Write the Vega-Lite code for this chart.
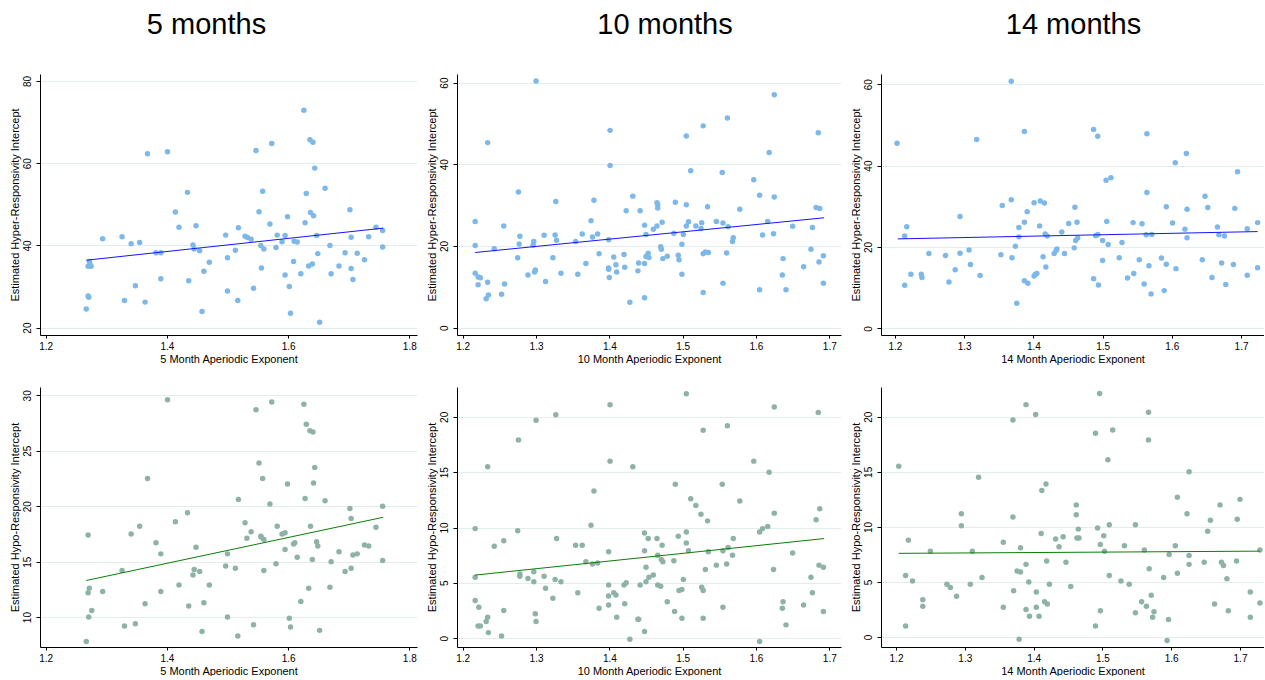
{
"$schema": "https://vega.github.io/schema/vega-lite/v6.json",
"background": "white",
"padding": {"left": 9, "top": 11, "right": 0, "bottom": 0},
"columns": 3,
"spacing": {"column": 40, "row": 52},
"bounds": "flush",
"datasets": {
"h5": [{"x":1.267,"y":24.5},{"x":1.270,"y":27.7},{"x":1.271,"y":27.4},{"x":1.270,"y":34.9},{"x":1.272,"y":36.1},{"x":1.275,"y":34.9},{"x":1.273,"y":35.4},{"x":1.294,"y":41.6},{"x":1.326,"y":42.1},{"x":1.330,"y":26.6},{"x":1.341,"y":40.4},{"x":1.348,"y":30.2},{"x":1.355,"y":40.7},{"x":1.364,"y":26.2},{"x":1.368,"y":62.3},{"x":1.382,"y":38.2},{"x":1.390,"y":38.2},{"x":1.390,"y":31.9},{"x":1.401,"y":62.8},{"x":1.414,"y":48.1},{"x":1.420,"y":44.4},{"x":1.434,"y":52.9},{"x":1.436,"y":31.4},{"x":1.443,"y":40.1},{"x":1.445,"y":39.1},{"x":1.448,"y":44.8},{"x":1.454,"y":38.7},{"x":1.458,"y":23.9},{"x":1.461,"y":33.7},{"x":1.470,"y":35.9},{"x":1.497,"y":42.5},{"x":1.500,"y":37.0},{"x":1.500,"y":28.9},{"x":1.513,"y":38.8},{"x":1.517,"y":26.6},{"x":1.518,"y":44.3},{"x":1.529,"y":42.2},{"x":1.533,"y":41.9},{"x":1.539,"y":41.5},{"x":1.543,"y":29.6},{"x":1.547,"y":63.1},{"x":1.552,"y":48.2},{"x":1.555,"y":40.0},{"x":1.556,"y":34.5},{"x":1.558,"y":53.2},{"x":1.560,"y":39.1},{"x":1.570,"y":45.2},{"x":1.573,"y":64.8},{"x":1.580,"y":39.5},{"x":1.582,"y":42.5},{"x":1.590,"y":40.9},{"x":1.595,"y":42.4},{"x":1.595,"y":32.8},{"x":1.599,"y":47.0},{"x":1.602,"y":30.0},{"x":1.604,"y":23.5},{"x":1.609,"y":36.1},{"x":1.610,"y":41.0},{"x":1.615,"y":40.8},{"x":1.621,"y":33.1},{"x":1.626,"y":72.9},{"x":1.628,"y":45.5},{"x":1.630,"y":52.6},{"x":1.634,"y":35.0},{"x":1.636,"y":65.7},{"x":1.637,"y":48.0},{"x":1.640,"y":35.5},{"x":1.641,"y":65.1},{"x":1.642,"y":47.2},{"x":1.644,"y":58.8},{"x":1.647,"y":42.4},{"x":1.649,"y":38.0},{"x":1.652,"y":21.3},{"x":1.661,"y":53.9},{"x":1.669,"y":40.0},{"x":1.671,"y":33.1},{"x":1.684,"y":35.0},{"x":1.694,"y":38.2},{"x":1.702,"y":48.7},{"x":1.704,"y":42.0},{"x":1.704,"y":34.4},{"x":1.707,"y":31.7},{"x":1.714,"y":38.1},{"x":1.726,"y":36.5},{"x":1.733,"y":42.1},{"x":1.745,"y":44.4},{"x":1.756,"y":43.6},{"x":1.756,"y":39.6}],
"h5fit": [{"x":1.267,"y":36.4},{"x":1.757,"y":44.2}],
"o5": [{"x":1.267,"y":7.8},{"x":1.270,"y":17.4},{"x":1.270,"y":12.2},{"x":1.272,"y":12.6},{"x":1.271,"y":10.0},{"x":1.276,"y":10.6},{"x":1.294,"y":12.3},{"x":1.326,"y":14.2},{"x":1.330,"y":9.2},{"x":1.341,"y":17.5},{"x":1.348,"y":9.4},{"x":1.355,"y":18.2},{"x":1.364,"y":11.2},{"x":1.368,"y":22.5},{"x":1.382,"y":16.7},{"x":1.390,"y":15.7},{"x":1.390,"y":12.3},{"x":1.401,"y":29.6},{"x":1.414,"y":18.6},{"x":1.420,"y":12.9},{"x":1.434,"y":19.4},{"x":1.436,"y":11.0},{"x":1.443,"y":13.8},{"x":1.445,"y":14.3},{"x":1.448,"y":16.3},{"x":1.454,"y":14.1},{"x":1.458,"y":8.7},{"x":1.461,"y":11.3},{"x":1.470,"y":12.9},{"x":1.497,"y":14.6},{"x":1.500,"y":15.7},{"x":1.500,"y":10.0},{"x":1.513,"y":14.4},{"x":1.517,"y":8.3},{"x":1.518,"y":20.6},{"x":1.529,"y":18.5},{"x":1.532,"y":17.1},{"x":1.539,"y":17.7},{"x":1.543,"y":9.3},{"x":1.547,"y":28.7},{"x":1.552,"y":23.9},{"x":1.555,"y":17.3},{"x":1.556,"y":17.2},{"x":1.558,"y":22.5},{"x":1.560,"y":17.0},{"x":1.560,"y":14.2},{"x":1.570,"y":20.2},{"x":1.573,"y":29.4},{"x":1.580,"y":14.8},{"x":1.582,"y":18.2},{"x":1.590,"y":17.5},{"x":1.595,"y":17.6},{"x":1.595,"y":16.1},{"x":1.599,"y":22.0},{"x":1.602,"y":9.9},{"x":1.604,"y":9.1},{"x":1.609,"y":16.6},{"x":1.611,"y":16.7},{"x":1.615,"y":15.4},{"x":1.621,"y":11.4},{"x":1.626,"y":29.2},{"x":1.628,"y":20.7},{"x":1.630,"y":27.4},{"x":1.634,"y":12.6},{"x":1.636,"y":26.8},{"x":1.637,"y":18.2},{"x":1.640,"y":15.2},{"x":1.641,"y":26.7},{"x":1.642,"y":22.1},{"x":1.644,"y":23.5},{"x":1.647,"y":16.8},{"x":1.649,"y":16.4},{"x":1.652,"y":8.8},{"x":1.661,"y":20.5},{"x":1.669,"y":12.7},{"x":1.671,"y":15.0},{"x":1.684,"y":15.9},{"x":1.694,"y":14.1},{"x":1.702,"y":19.8},{"x":1.704,"y":14.4},{"x":1.704,"y":18.9},{"x":1.707,"y":15.6},{"x":1.714,"y":15.7},{"x":1.726,"y":16.5},{"x":1.733,"y":16.4},{"x":1.745,"y":18.1},{"x":1.756,"y":15.1},{"x":1.756,"y":20.0}],
"o5fit": [{"x":1.267,"y":13.3},{"x":1.757,"y":19.0}],
"h10": [{"x":1.217,"y":26.0},{"x":1.217,"y":20.1},{"x":1.217,"y":13.3},{"x":1.221,"y":12.4},{"x":1.224,"y":12.2},{"x":1.221,"y":10.5},{"x":1.234,"y":45.3},{"x":1.234,"y":11.1},{"x":1.232,"y":7.1},{"x":1.235,"y":8.0},{"x":1.243,"y":19.3},{"x":1.253,"y":8.2},{"x":1.256,"y":24.9},{"x":1.257,"y":10.7},{"x":1.275,"y":17.1},{"x":1.276,"y":33.2},{"x":1.278,"y":22.4},{"x":1.277,"y":20.5},{"x":1.289,"y":12.9},{"x":1.297,"y":21.1},{"x":1.296,"y":20.2},{"x":1.299,"y":14.1},{"x":1.298,"y":13.6},{"x":1.300,"y":60.4},{"x":1.311,"y":22.6},{"x":1.313,"y":11.3},{"x":1.323,"y":17.1},{"x":1.326,"y":22.7},{"x":1.327,"y":30.9},{"x":1.328,"y":21.4},{"x":1.334,"y":13.3},{"x":1.354,"y":21.1},{"x":1.357,"y":13.1},{"x":1.363,"y":22.9},{"x":1.368,"y":15.7},{"x":1.375,"y":26.2},{"x":1.377,"y":22.2},{"x":1.379,"y":31.2},{"x":1.384,"y":22.9},{"x":1.386,"y":18.1},{"x":1.399,"y":21.5},{"x":1.399,"y":14.6},{"x":1.399,"y":14.3},{"x":1.400,"y":12.3},{"x":1.401,"y":48.3},{"x":1.401,"y":39.7},{"x":1.406,"y":17.3},{"x":1.409,"y":15.4},{"x":1.410,"y":13.6},{"x":1.420,"y":17.9},{"x":1.421,"y":14.8},{"x":1.423,"y":28.6},{"x":1.428,"y":6.2},{"x":1.432,"y":32.2},{"x":1.439,"y":13.9},{"x":1.440,"y":15.8},{"x":1.442,"y":28.6},{"x":1.448,"y":7.3},{"x":1.448,"y":25.1},{"x":1.448,"y":15.7},{"x":1.450,"y":17.4},{"x":1.450,"y":22.8},{"x":1.453,"y":18.2},{"x":1.454,"y":17.2},{"x":1.460,"y":24.1},{"x":1.465,"y":30.6},{"x":1.466,"y":30.1},{"x":1.466,"y":29.3},{"x":1.465,"y":24.9},{"x":1.470,"y":19.8},{"x":1.471,"y":19.2},{"x":1.472,"y":25.8},{"x":1.473,"y":16.9},{"x":1.479,"y":17.5},{"x":1.488,"y":23.1},{"x":1.490,"y":30.7},{"x":1.494,"y":17.7},{"x":1.495,"y":16.6},{"x":1.499,"y":13.1},{"x":1.499,"y":20.4},{"x":1.501,"y":22.8},{"x":1.505,"y":46.9},{"x":1.505,"y":24.9},{"x":1.505,"y":30.1},{"x":1.508,"y":25.9},{"x":1.511,"y":38.4},{"x":1.518,"y":24.9},{"x":1.525,"y":24.3},{"x":1.526,"y":25.7},{"x":1.528,"y":49.4},{"x":1.528,"y":18.1},{"x":1.528,"y":8.6},{"x":1.531,"y":18.5},{"x":1.535,"y":18.4},{"x":1.534,"y":29.6},{"x":1.546,"y":26.0},{"x":1.554,"y":38.0},{"x":1.555,"y":25.6},{"x":1.555,"y":10.9},{"x":1.560,"y":18.3},{"x":1.561,"y":51.3},{"x":1.562,"y":24.7},{"x":1.568,"y":21.1},{"x":1.569,"y":22.0},{"x":1.578,"y":29.0},{"x":1.597,"y":36.2},{"x":1.605,"y":32.4},{"x":1.605,"y":9.3},{"x":1.609,"y":22.7},{"x":1.616,"y":26.0},{"x":1.618,"y":42.9},{"x":1.624,"y":23.0},{"x":1.625,"y":32.0},{"x":1.625,"y":57.0},{"x":1.637,"y":16.9},{"x":1.636,"y":12.9},{"x":1.641,"y":9.3},{"x":1.650,"y":24.8},{"x":1.665,"y":14.9},{"x":1.675,"y":19.2},{"x":1.677,"y":24.5},{"x":1.682,"y":29.4},{"x":1.685,"y":47.7},{"x":1.686,"y":16.1},{"x":1.687,"y":29.2},{"x":1.692,"y":17.6},{"x":1.692,"y":10.9}],
"h10fit": [{"x":1.217,"y":18.4},{"x":1.693,"y":26.9}],
"o10": [{"x":1.217,"y":9.9},{"x":1.217,"y":5.5},{"x":1.217,"y":3.4},{"x":1.222,"y":2.8},{"x":1.221,"y":1.1},{"x":1.224,"y":1.1},{"x":1.234,"y":15.5},{"x":1.234,"y":1.9},{"x":1.232,"y":1.5},{"x":1.235,"y":0.5},{"x":1.243,"y":8.3},{"x":1.253,"y":0.2},{"x":1.256,"y":8.8},{"x":1.256,"y":2.5},{"x":1.275,"y":9.7},{"x":1.276,"y":17.9},{"x":1.278,"y":5.8},{"x":1.278,"y":5.6},{"x":1.289,"y":5.4},{"x":1.297,"y":6.0},{"x":1.297,"y":5.1},{"x":1.299,"y":2.2},{"x":1.300,"y":1.5},{"x":1.300,"y":19.7},{"x":1.311,"y":5.6},{"x":1.313,"y":4.5},{"x":1.323,"y":3.6},{"x":1.326,"y":5.3},{"x":1.327,"y":20.2},{"x":1.328,"y":9.0},{"x":1.334,"y":5.1},{"x":1.354,"y":8.4},{"x":1.357,"y":4.1},{"x":1.363,"y":8.4},{"x":1.368,"y":6.9},{"x":1.375,"y":10.2},{"x":1.377,"y":6.7},{"x":1.379,"y":13.3},{"x":1.384,"y":6.8},{"x":1.386,"y":2.7},{"x":1.399,"y":7.8},{"x":1.399,"y":4.8},{"x":1.399,"y":3.8},{"x":1.399,"y":3.0},{"x":1.401,"y":21.1},{"x":1.401,"y":16.0},{"x":1.406,"y":4.1},{"x":1.409,"y":3.9},{"x":1.410,"y":1.9},{"x":1.420,"y":4.8},{"x":1.421,"y":3.1},{"x":1.423,"y":5.0},{"x":1.428,"y":-0.1},{"x":1.432,"y":15.5},{"x":1.439,"y":1.7},{"x":1.440,"y":1.7},{"x":1.442,"y":4.8},{"x":1.448,"y":0.6},{"x":1.448,"y":9.5},{"x":1.448,"y":7.9},{"x":1.450,"y":5.1},{"x":1.450,"y":6.4},{"x":1.453,"y":9.0},{"x":1.454,"y":5.5},{"x":1.460,"y":5.7},{"x":1.465,"y":9.0},{"x":1.466,"y":7.5},{"x":1.466,"y":4.8},{"x":1.470,"y":4.7},{"x":1.471,"y":7.1},{"x":1.472,"y":8.4},{"x":1.473,"y":6.9},{"x":1.479,"y":3.3},{"x":1.488,"y":7.0},{"x":1.490,"y":13.9},{"x":1.489,"y":2.4},{"x":1.494,"y":9.2},{"x":1.495,"y":4.3},{"x":1.499,"y":4.4},{"x":1.499,"y":1.8},{"x":1.501,"y":5.3},{"x":1.505,"y":22.1},{"x":1.505,"y":9.6},{"x":1.505,"y":8.6},{"x":1.508,"y":7.9},{"x":1.511,"y":12.6},{"x":1.518,"y":12.0},{"x":1.525,"y":11.2},{"x":1.526,"y":4.6},{"x":1.528,"y":18.8},{"x":1.528,"y":4.3},{"x":1.528,"y":1.8},{"x":1.531,"y":6.2},{"x":1.535,"y":7.8},{"x":1.534,"y":10.6},{"x":1.546,"y":6.6},{"x":1.554,"y":13.9},{"x":1.555,"y":7.9},{"x":1.555,"y":2.8},{"x":1.560,"y":6.7},{"x":1.561,"y":19.2},{"x":1.562,"y":8.2},{"x":1.568,"y":7.5},{"x":1.569,"y":9.0},{"x":1.578,"y":12.4},{"x":1.597,"y":16.0},{"x":1.605,"y":9.6},{"x":1.605,"y":-0.3},{"x":1.609,"y":9.9},{"x":1.616,"y":10.1},{"x":1.618,"y":15.0},{"x":1.624,"y":6.2},{"x":1.625,"y":11.3},{"x":1.625,"y":20.9},{"x":1.637,"y":3.3},{"x":1.636,"y":2.7},{"x":1.641,"y":1.2},{"x":1.650,"y":7.7},{"x":1.665,"y":3.0},{"x":1.675,"y":5.5},{"x":1.677,"y":4.1},{"x":1.682,"y":10.7},{"x":1.685,"y":20.4},{"x":1.686,"y":6.6},{"x":1.687,"y":11.7},{"x":1.692,"y":6.4},{"x":1.692,"y":2.4}],
"o10fit": [{"x":1.217,"y":5.7},{"x":1.693,"y":9.0}],
"h14": [{"x":1.203,"y":45.5},{"x":1.214,"y":10.6},{"x":1.214,"y":22.7},{"x":1.217,"y":25.0},{"x":1.223,"y":13.3},{"x":1.238,"y":13.3},{"x":1.239,"y":12.5},{"x":1.249,"y":18.4},{"x":1.273,"y":17.9},{"x":1.278,"y":11.4},{"x":1.287,"y":14.4},{"x":1.294,"y":27.5},{"x":1.294,"y":18.5},{"x":1.307,"y":19.3},{"x":1.309,"y":15.7},{"x":1.318,"y":46.4},{"x":1.323,"y":13.0},{"x":1.353,"y":18.1},{"x":1.355,"y":30.2},{"x":1.368,"y":60.7},{"x":1.368,"y":31.6},{"x":1.369,"y":17.4},{"x":1.374,"y":20.2},{"x":1.376,"y":6.2},{"x":1.379,"y":24.8},{"x":1.379,"y":22.5},{"x":1.387,"y":48.4},{"x":1.387,"y":26.1},{"x":1.387,"y":11.7},{"x":1.391,"y":28.7},{"x":1.392,"y":11.1},{"x":1.401,"y":30.9},{"x":1.401,"y":12.9},{"x":1.403,"y":13.3},{"x":1.405,"y":13.5},{"x":1.409,"y":25.2},{"x":1.410,"y":31.3},{"x":1.414,"y":17.6},{"x":1.416,"y":30.8},{"x":1.417,"y":23.2},{"x":1.418,"y":15.1},{"x":1.420,"y":22.7},{"x":1.430,"y":18.4},{"x":1.433,"y":19.2},{"x":1.434,"y":19.5},{"x":1.441,"y":23.7},{"x":1.445,"y":18.4},{"x":1.451,"y":25.8},{"x":1.459,"y":19.8},{"x":1.460,"y":29.8},{"x":1.461,"y":21.6},{"x":1.463,"y":26.1},{"x":1.464,"y":22.2},{"x":1.487,"y":12.2},{"x":1.487,"y":48.9},{"x":1.490,"y":22.8},{"x":1.493,"y":47.2},{"x":1.493,"y":23.1},{"x":1.494,"y":10.7},{"x":1.500,"y":21.6},{"x":1.500,"y":16.7},{"x":1.505,"y":36.4},{"x":1.506,"y":26.3},{"x":1.508,"y":20.6},{"x":1.512,"y":37.0},{"x":1.524,"y":17.4},{"x":1.528,"y":21.1},{"x":1.536,"y":12.4},{"x":1.544,"y":26.0},{"x":1.545,"y":13.5},{"x":1.553,"y":16.9},{"x":1.557,"y":25.7},{"x":1.560,"y":10.9},{"x":1.563,"y":23.0},{"x":1.564,"y":33.4},{"x":1.564,"y":47.8},{"x":1.567,"y":15.4},{"x":1.570,"y":8.5},{"x":1.571,"y":23.1},{"x":1.585,"y":17.3},{"x":1.589,"y":9.3},{"x":1.592,"y":29.9},{"x":1.592,"y":15.8},{"x":1.601,"y":25.9},{"x":1.605,"y":40.7},{"x":1.606,"y":14.7},{"x":1.619,"y":24.4},{"x":1.621,"y":43.0},{"x":1.622,"y":22.3},{"x":1.622,"y":29.3},{"x":1.644,"y":16.9},{"x":1.648,"y":32.5},{"x":1.652,"y":29.7},{"x":1.658,"y":12.5},{"x":1.666,"y":24.9},{"x":1.668,"y":23.0},{"x":1.672,"y":16.1},{"x":1.676,"y":22.7},{"x":1.678,"y":10.8},{"x":1.689,"y":15.7},{"x":1.691,"y":29.5},{"x":1.695,"y":38.5},{"x":1.709,"y":24.5},{"x":1.709,"y":13.1},{"x":1.724,"y":26.0},{"x":1.724,"y":14.9}],
"h14fit": [{"x":1.204,"y":22.0},{"x":1.724,"y":23.8}],
"o14": [{"x":1.204,"y":15.5},{"x":1.214,"y":5.6},{"x":1.214,"y":1.0},{"x":1.218,"y":8.8},{"x":1.224,"y":5.1},{"x":1.239,"y":3.4},{"x":1.239,"y":2.8},{"x":1.250,"y":7.8},{"x":1.274,"y":4.8},{"x":1.279,"y":4.5},{"x":1.288,"y":3.7},{"x":1.295,"y":11.2},{"x":1.295,"y":10.1},{"x":1.308,"y":4.8},{"x":1.311,"y":7.8},{"x":1.320,"y":14.5},{"x":1.325,"y":5.4},{"x":1.356,"y":2.7},{"x":1.356,"y":8.6},{"x":1.370,"y":19.7},{"x":1.370,"y":10.9},{"x":1.371,"y":4.2},{"x":1.376,"y":6.0},{"x":1.379,"y":-0.2},{"x":1.381,"y":5.9},{"x":1.381,"y":8.1},{"x":1.389,"y":6.6},{"x":1.389,"y":21.1},{"x":1.389,"y":2.5},{"x":1.393,"y":5.0},{"x":1.394,"y":1.9},{"x":1.403,"y":20.2},{"x":1.404,"y":4.1},{"x":1.404,"y":2.7},{"x":1.408,"y":1.9},{"x":1.411,"y":9.4},{"x":1.412,"y":13.3},{"x":1.416,"y":3.2},{"x":1.418,"y":13.9},{"x":1.419,"y":6.9},{"x":1.420,"y":3.0},{"x":1.423,"y":4.8},{"x":1.432,"y":8.9},{"x":1.437,"y":8.2},{"x":1.443,"y":9.1},{"x":1.447,"y":6.8},{"x":1.454,"y":4.6},{"x":1.462,"y":12.0},{"x":1.462,"y":11.1},{"x":1.463,"y":9.0},{"x":1.465,"y":9.8},{"x":1.466,"y":9.0},{"x":1.490,"y":18.5},{"x":1.490,"y":1.0},{"x":1.493,"y":9.9},{"x":1.497,"y":8.4},{"x":1.497,"y":2.4},{"x":1.496,"y":22.1},{"x":1.502,"y":9.2},{"x":1.503,"y":7.8},{"x":1.508,"y":16.1},{"x":1.510,"y":10.2},{"x":1.510,"y":5.6},{"x":1.515,"y":18.8},{"x":1.527,"y":5.1},{"x":1.532,"y":8.3},{"x":1.539,"y":4.8},{"x":1.548,"y":2.2},{"x":1.548,"y":10.2},{"x":1.557,"y":3.2},{"x":1.561,"y":7.9},{"x":1.564,"y":2.8},{"x":1.567,"y":20.4},{"x":1.567,"y":17.9},{"x":1.568,"y":6.2},{"x":1.571,"y":3.8},{"x":1.573,"y":1.8},{"x":1.575,"y":2.3},{"x":1.589,"y":5.4},{"x":1.594,"y":-0.3},{"x":1.596,"y":1.6},{"x":1.597,"y":7.5},{"x":1.606,"y":8.3},{"x":1.609,"y":12.7},{"x":1.609,"y":5.8},{"x":1.623,"y":11.2},{"x":1.626,"y":15.0},{"x":1.626,"y":7.4},{"x":1.626,"y":6.6},{"x":1.648,"y":6.8},{"x":1.653,"y":9.6},{"x":1.657,"y":10.6},{"x":1.663,"y":3.0},{"x":1.671,"y":12.0},{"x":1.673,"y":6.8},{"x":1.676,"y":6.5},{"x":1.681,"y":5.3},{"x":1.683,"y":2.4},{"x":1.695,"y":6.9},{"x":1.696,"y":10.7},{"x":1.700,"y":12.5},{"x":1.715,"y":4.1},{"x":1.715,"y":1.8},{"x":1.729,"y":7.9},{"x":1.729,"y":3.1}],
"o14fit": [{"x":1.204,"y":7.6},{"x":1.729,"y":7.8}]
},
"concat": [
{"width": 377, "height": 261, "title": {"text": "5 months", "dx": -22},
 "encoding": {"x": {"field": "x", "type": "quantitative", "scale": {"domain": [1.1906, 1.8127], "nice": false, "zero": false}, "axis": {"values": [1.2, 1.4, 1.6, 1.8], "format": ".1f", "title": "5 Month Aperiodic Exponent"}},
  "y": {"field": "y", "type": "quantitative", "scale": {"domain": [18.2, 81.7], "nice": false, "zero": false}, "axis": {"values": [20, 40, 60, 80], "format": "d", "title": "Estimated Hyper-Responsivity Intercept"}}},
 "layer": [
  {"data": {"name": "h5"}, "mark": {"type": "point", "filled": true, "size": 30, "opacity": 1, "color": "#7db8e8", "strokeWidth": 0}},
  {"data": {"name": "h5fit"}, "mark": {"type": "line", "color": "#1414ff", "strokeWidth": 1}, "encoding": {}}
 ]},
{"width": 384, "height": 261, "title": {"text": "10 months", "dx": 16},
 "encoding": {"x": {"field": "x", "type": "quantitative", "scale": {"domain": [1.1922, 1.716], "nice": false, "zero": false}, "axis": {"values": [1.2, 1.3, 1.4, 1.5, 1.6, 1.7], "format": ".1f", "title": "10 Month Aperiodic Exponent"}},
  "y": {"field": "y", "type": "quantitative", "scale": {"domain": [-1.8, 62.1], "nice": false, "zero": false}, "axis": {"values": [0, 20, 40, 60], "format": "d", "title": "Estimated Hyper-Responsivity Intercept"}}},
 "layer": [
  {"data": {"name": "h10"}, "mark": {"type": "point", "filled": true, "size": 30, "opacity": 1, "color": "#7db8e8", "strokeWidth": 0}},
  {"data": {"name": "h10fit"}, "mark": {"type": "line", "color": "#1414ff", "strokeWidth": 1}, "encoding": {}}
 ]},
{"width": 383, "height": 261, "title": {"text": "14 months", "dx": 1},
 "encoding": {"x": {"field": "x", "type": "quantitative", "scale": {"domain": [1.1798, 1.7332], "nice": false, "zero": false}, "axis": {"values": [1.2, 1.3, 1.4, 1.5, 1.6, 1.7], "format": ".1f", "title": "14 Month Aperiodic Exponent"}},
  "y": {"field": "y", "type": "quantitative", "scale": {"domain": [-1.6, 62.5], "nice": false, "zero": false}, "axis": {"values": [0, 20, 40, 60], "format": "d", "title": "Estimated Hyper-Responsivity Intercept"}}},
 "layer": [
  {"data": {"name": "h14"}, "mark": {"type": "point", "filled": true, "size": 30, "opacity": 1, "color": "#7db8e8", "strokeWidth": 0}},
  {"data": {"name": "h14fit"}, "mark": {"type": "line", "color": "#1414ff", "strokeWidth": 1}, "encoding": {}}
 ]},
{"width": 377, "height": 260,
 "encoding": {"x": {"field": "x", "type": "quantitative", "scale": {"domain": [1.1906, 1.8127], "nice": false, "zero": false}, "axis": {"values": [1.2, 1.4, 1.6, 1.8], "format": ".1f", "title": "5 Month Aperiodic Exponent"}},
  "y": {"field": "y", "type": "quantitative", "scale": {"domain": [7.3, 30.75], "nice": false, "zero": false}, "axis": {"values": [10, 15, 20, 25, 30], "format": "d", "title": "Estimated Hypo-Responsivity Intercept"}}},
 "layer": [
  {"data": {"name": "o5"}, "mark": {"type": "point", "filled": true, "size": 30, "opacity": 1, "color": "#8fb2a6", "strokeWidth": 0}},
  {"data": {"name": "o5fit"}, "mark": {"type": "line", "color": "#0a7d0a", "strokeWidth": 1}, "encoding": {}}
 ]},
{"width": 384, "height": 260,
 "encoding": {"x": {"field": "x", "type": "quantitative", "scale": {"domain": [1.1922, 1.716], "nice": false, "zero": false}, "axis": {"values": [1.2, 1.3, 1.4, 1.5, 1.6, 1.7], "format": ".1f", "title": "10 Month Aperiodic Exponent"}},
  "y": {"field": "y", "type": "quantitative", "scale": {"domain": [-0.8, 22.7], "nice": false, "zero": false}, "axis": {"values": [0, 5, 10, 15, 20], "format": "d", "title": "Estimated Hypo-Responsivity Intercept"}}},
 "layer": [
  {"data": {"name": "o10"}, "mark": {"type": "point", "filled": true, "size": 30, "opacity": 1, "color": "#8fb2a6", "strokeWidth": 0}},
  {"data": {"name": "o10fit"}, "mark": {"type": "line", "color": "#0a7d0a", "strokeWidth": 1}, "encoding": {}}
 ]},
{"width": 383, "height": 260,
 "encoding": {"x": {"field": "x", "type": "quantitative", "scale": {"domain": [1.1782, 1.7349], "nice": false, "zero": false}, "axis": {"values": [1.2, 1.3, 1.4, 1.5, 1.6, 1.7], "format": ".1f", "title": "14 Month Aperiodic Exponent"}},
  "y": {"field": "y", "type": "quantitative", "scale": {"domain": [-0.9, 22.7], "nice": false, "zero": false}, "axis": {"values": [0, 5, 10, 15, 20], "format": "d", "title": "Estimated Hypo-Responsivity Intercept"}}},
 "layer": [
  {"data": {"name": "o14"}, "mark": {"type": "point", "filled": true, "size": 30, "opacity": 1, "color": "#8fb2a6", "strokeWidth": 0}},
  {"data": {"name": "o14fit"}, "mark": {"type": "line", "color": "#0a7d0a", "strokeWidth": 1}, "encoding": {}}
 ]}
],
"config": {
 "view": {"stroke": null},
 "title": {"fontSize": 29, "font": "Liberation Sans", "fontWeight": "normal", "anchor": "middle", "offset": 34, "baseline": "alphabetic", "color": "#000"},
 "axis": {"labelFont": "Liberation Sans", "titleFont": "Liberation Sans", "labelFontSize": 10, "titleFontSize": 11, "titleFontWeight": "normal", "labelColor": "#000", "titleColor": "#000", "domainColor": "#000", "tickColor": "#000", "domainWidth": 1, "tickWidth": 1, "gridColor": "#e3ecef", "gridWidth": 1},
 "axisX": {"grid": false, "tickSize": 3, "labelPadding": 3, "titlePadding": 2, "labelFlush": false},
 "axisY": {"grid": true, "tickSize": 4, "labelPadding": 4, "labelAngle": -90, "labelAlign": "center", "labelBaseline": "bottom", "titlePadding": 4, "minExtent": 16, "maxExtent": 16}
}
}
